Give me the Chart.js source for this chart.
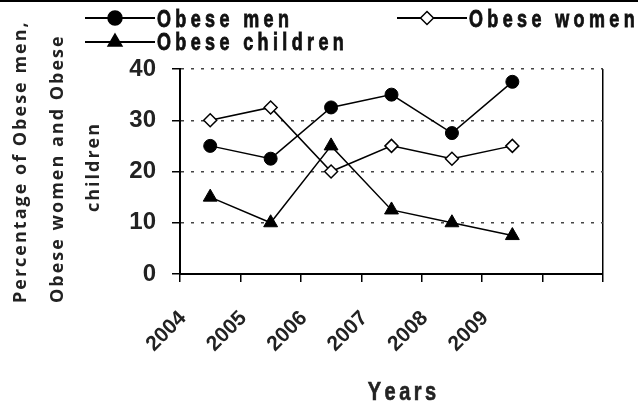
<!DOCTYPE html>
<html>
<head>
<meta charset="utf-8">
<script src="https://cdn.jsdelivr.net/npm/chart.js@4.4.1/dist/chart.umd.min.js"></script>
<style>
html,body{margin:0;padding:0;background:#fff;}
#wrap{width:638px;height:404px;position:relative;}
canvas{display:block;}
</style>
</head>
<body>
<div id="wrap"><canvas id="c" width="638" height="404"></canvas></div>
<script>
// ---- data ----
const years = ['2004', '2005', '2006', '2007', '2008', '2009'];
const obeseMen = [25, 22.5, 32.5, 35, 27.5, 37.5];
const obeseWomen = [30, 32.5, 20, 25, 22.5, 25];
const obeseChildren = [15, 10, 25, 12.5, 10, 7.5];
const yTicks = [0, 10, 20, 30, 40];
const seriesLabels = ['Obese men', 'Obese women', 'Obese children'];
const yTitleLines = ['Percentage of Obese men,', 'Obese women and Obese', 'children'];
const xTitle = 'Years';

// points sit in the middle of each year's interval
const toPoints = vals => vals.map((v, i) => ({ x: Number(years[i]) + 0.5, y: v }));
const xMin = Number(years[0]);
const xMax = Number(years[years.length - 1]) + 2;

function spacedText(ctx, text, x, y, spacing, sx, strokeW) {
  ctx.save();
  ctx.translate(x, y);
  ctx.scale(sx, 1);
  let cx = 0;
  for (const ch of text) {
    ctx.fillText(ch, cx, 0);
    if (strokeW) { ctx.lineWidth = strokeW; ctx.strokeStyle = ctx.fillStyle; ctx.strokeText(ch, cx, 0); }
    cx += ctx.measureText(ch).width + spacing / sx;
  }
  ctx.restore();
}
function spacedWidth(ctx, text, spacing, sx) {
  let w = 0;
  for (const ch of text) w += ctx.measureText(ch).width * sx + spacing;
  return w - spacing;
}

function drawMarker(ctx, style, x, y, r, fill) {
  ctx.save();
  ctx.fillStyle = fill;
  ctx.strokeStyle = '#000';
  ctx.lineWidth = 1.5;
  ctx.beginPath();
  if (style === 'circle') {
    ctx.arc(x, y, r, 0, Math.PI * 2);
  } else if (style === 'rectRot') {
    ctx.moveTo(x, y - r); ctx.lineTo(x + r, y); ctx.lineTo(x, y + r); ctx.lineTo(x - r, y); ctx.closePath();
  } else if (style === 'triangle') {
    ctx.moveTo(x, y - r); ctx.lineTo(x + r * 0.866, y + r * 0.5); ctx.lineTo(x - r * 0.866, y + r * 0.5); ctx.closePath();
  }
  ctx.fill();
  ctx.stroke();
  ctx.restore();
}

const decor = {
  id: 'decor',
  afterDraw(chart) {
    const ctx = chart.ctx;
    ctx.save();
    // top rule
    ctx.fillStyle = '#000';
    ctx.fillRect(0, 0, 638, 2);

    // legend
    const items = [
      { ds: 0, lx: 85, y: 18, ty: 27 },
      { ds: 1, lx: 397, y: 18, ty: 27 },
      { ds: 2, lx: 85, y: 42, ty: 50 }
    ];
    ctx.font = 'bold 23px "Liberation Sans", Arial, sans-serif';
    ctx.textBaseline = 'alphabetic';
    items.forEach(it => {
      const ds = chart.data.datasets[it.ds];
      ctx.strokeStyle = '#000';
      ctx.lineWidth = 2;
      ctx.beginPath();
      ctx.moveTo(it.lx, it.y);
      ctx.lineTo(it.lx + 70, it.y);
      ctx.stroke();
      drawMarker(ctx, ds.pointStyle, it.lx + 30, it.y, ds.legendRadius, ds.pointBackgroundColor);
      ctx.fillStyle = '#111';
      spacedText(ctx, ds.label, it.lx + 72, it.ty, 4.4, 0.78, 0.8);
    });

    // x title
    ctx.font = 'bold 25px "Liberation Sans", Arial, sans-serif';
    ctx.fillStyle = '#222';
    const xw = spacedWidth(ctx, xTitle, 3.5, 0.8);
    spacedText(ctx, xTitle, 402 - xw / 2, 400, 3.5, 0.8, 0.6);

    // y title (rotated)
    ctx.font = 'bold 18px "Open Sans", sans-serif';
    ctx.fillStyle = '#222';
    ctx.textBaseline = 'middle';
    const lines = [
      { t: yTitleLines[0], x: 21, mode: 'start', y: 303 },
      { t: yTitleLines[1], x: 58, mode: 'start', y: 303 },
      { t: yTitleLines[2], x: 94, mode: 'center', y: 168 }
    ];
    lines.forEach(l => {
      const w = spacedWidth(ctx, l.t, 2.0, 1);
      ctx.save();
      ctx.translate(l.x, l.y);
      ctx.rotate(-Math.PI / 2);
      const start = l.mode === 'start' ? 0 : -w / 2;
      spacedText(ctx, l.t, start, 0, 2.0, 1, 0);
      ctx.restore();
    });
    ctx.restore();
  }
};

const chart = new Chart(document.getElementById('c'), {
  type: 'line',
  data: {
    datasets: [
      {
        label: seriesLabels[0], data: toPoints(obeseMen),
        borderColor: '#000', borderWidth: 1.5,
        pointStyle: 'circle', pointRadius: 6.5, legendRadius: 7,
        pointBackgroundColor: '#000', pointBorderColor: '#000', pointBorderWidth: 1
      },
      {
        label: seriesLabels[1], data: toPoints(obeseWomen),
        borderColor: '#000', borderWidth: 1.5,
        pointStyle: 'rectRot', pointRadius: 6.5, legendRadius: 6.5,
        pointBackgroundColor: '#fff', pointBorderColor: '#000', pointBorderWidth: 1.5
      },
      {
        label: seriesLabels[2], data: toPoints(obeseChildren),
        borderColor: '#000', borderWidth: 1.5,
        pointStyle: 'triangle', pointRadius: 8, legendRadius: 8,
        pointBackgroundColor: '#000', pointBorderColor: '#000', pointBorderWidth: 1
      }
    ]
  },
  options: {
    responsive: false,
    animation: false,
    layout: { padding: { top: 69, right: 35, left: 0, bottom: 0 } },
    plugins: { legend: { display: false }, tooltip: { enabled: false } },
    scales: {
      x: {
        type: 'linear', min: xMin, max: xMax,
        afterFit: s => { s.height = 130; s.paddingLeft = 0; s.paddingRight = 0; },
        afterBuildTicks: s => { s.ticks = []; for (let v = xMin; v <= xMax; v++) s.ticks.push({ value: v }); },
        ticks: {
          stepSize: 1, autoSkip: false, maxRotation: 45, minRotation: 45,
          callback: v => years.includes(String(v)) ? String(v) : '',
          font: { family: '"Liberation Sans", Arial, sans-serif', weight: 'bold', size: 21 },
          color: '#222', padding: 24, labelOffset: 3
        },
        grid: {
          color: c => (c.tick && c.tick.value === xMax) ? '#000' : 'rgba(0,0,0,0)',
          lineWidth: 1.5, tickColor: '#000', tickLength: 8, tickWidth: 1.5
        },
        border: { color: '#000', width: 2, dash: [] }
      },
      y: {
        min: yTicks[0], max: yTicks[yTicks.length - 1],
        afterFit: s => { s.width = 180; s.paddingTop = 0; s.paddingBottom = 0; },
        afterBuildTicks: s => { s.ticks = yTicks.map(v => ({ value: v })); },
        ticks: {
          stepSize: 10,
          font: { family: '"Liberation Sans", Arial, sans-serif', weight: 'bold', size: 24 },
          color: '#222', padding: 16
        },
        grid: {
          color: c => (c.tick && c.tick.value === 0) ? 'rgba(0,0,0,0)' : '#444',
          lineWidth: 1.5, tickColor: '#000', tickLength: 8, tickWidth: 1.5,
          borderDash: [3, 7], tickBorderDash: []
        },
        border: { color: '#000', width: 2, dash: [3, 7] }
      }
    }
  },
  plugins: [decor]
});
</script>
</body>
</html>
